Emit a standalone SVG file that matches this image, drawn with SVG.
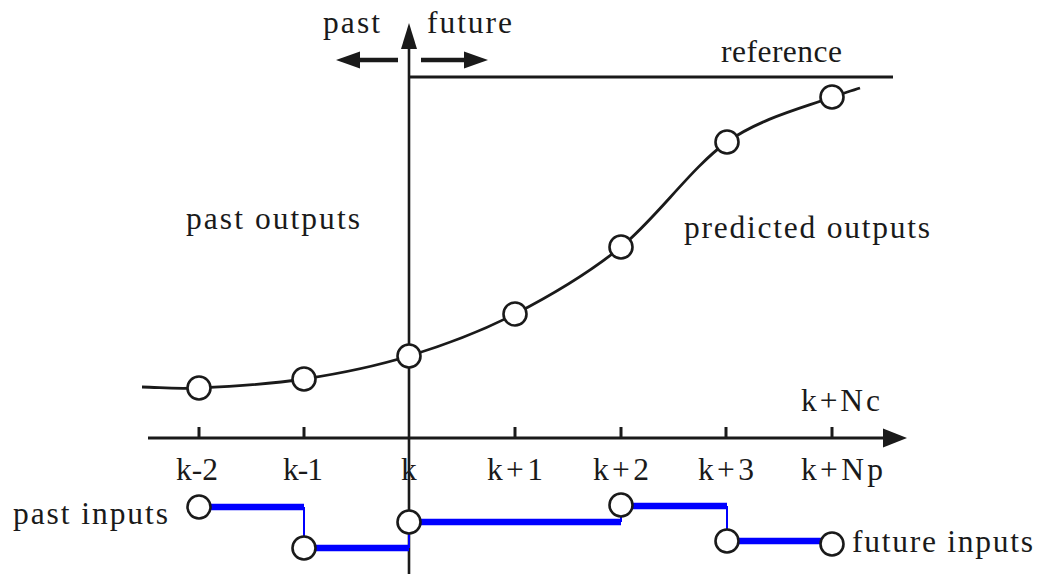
<svg xmlns="http://www.w3.org/2000/svg" width="1038" height="574" viewBox="0 0 1038 574">
<style>
text{font-family:"Liberation Serif","Times New Roman",serif;font-size:31.5px;fill:#1a1a1a}
.ax{stroke:#1a1a1a;fill:none}
.pt{fill:#fff;stroke:#1a1a1a;stroke-width:2.6}
.u{stroke:#0000ff;stroke-width:6.5;fill:none}
.uv{stroke:#0000ff;stroke-width:2;fill:none}
.hd{fill:#1a1a1a}
</style>
<rect width="1038" height="574" fill="#fff"/>
<g id="connectors">
  <line class="ax" x1="409" y1="574" x2="409" y2="45" stroke-width="2.6"/>
  <polygon class="hd" points="409,23 401,49 417,49"/>
  <line class="ax" x1="148" y1="438" x2="886" y2="438" stroke-width="3"/>
  <polygon class="hd" points="907,438 883,428.5 883,447.5"/>
  <g class="ax" stroke-width="3">
    <line x1="199" y1="427" x2="199" y2="438"/>
    <line x1="304" y1="427" x2="304" y2="438"/>
    <line x1="515" y1="427" x2="515" y2="438"/>
    <line x1="621" y1="427" x2="621" y2="438"/>
    <line x1="726" y1="427" x2="726" y2="438"/>
    <line x1="832" y1="427" x2="832" y2="438"/>
  </g>
  <line class="ax" x1="398" y1="60" x2="358" y2="60" stroke-width="4.5"/>
  <polygon class="hd" points="336,60 360,51.5 360,68.5"/>
  <line class="ax" x1="421" y1="60" x2="466" y2="60" stroke-width="4.5"/>
  <polygon class="hd" points="488,60 464,51.5 464,68.5"/>
  <line class="ax" x1="409" y1="77" x2="893" y2="77" stroke-width="3"/>
  <path id="outputs-curve" class="ax" stroke-width="2.8" d="M142,387 C161,387.3 172,389.3 199,388 C226,386.7 269,384.3 304,379 C339,373.7 373.8,366.8 409,356 C444.2,345.2 479.7,332.2 515,314 C550.3,295.8 585.7,275.7 621,247 C656.3,218.3 691.8,167 727,142 C762.2,117 809.8,106 832,97 C841,94 851,91 860,88"/>
  <g id="inputs">
    <line class="u" x1="199" y1="507" x2="304" y2="507"/>
    <line class="uv" x1="304" y1="507" x2="304" y2="548"/>
    <line class="u" x1="304" y1="548" x2="409" y2="548"/>
    <line class="uv" x1="409" y1="548" x2="409" y2="522"/>
    <line class="u" x1="409" y1="522" x2="621" y2="522"/>
    <line class="uv" x1="621" y1="522" x2="621" y2="506"/>
    <line class="u" x1="621" y1="506" x2="727" y2="506"/>
    <line class="uv" x1="727" y1="506" x2="727" y2="541"/>
    <line class="u" x1="727" y1="541" x2="832" y2="541"/>
  </g>
</g>
<g id="output-points">
  <circle id="y-k-2" class="pt" cx="199" cy="388" r="11.5"/>
  <circle id="y-k-1" class="pt" cx="304" cy="379" r="11.5"/>
  <circle id="y-k" class="pt" cx="409" cy="356" r="11.5"/>
  <circle id="y-k1" class="pt" cx="515" cy="314" r="11.5"/>
  <circle id="y-k2" class="pt" cx="621" cy="247" r="11.5"/>
  <circle id="y-k3" class="pt" cx="727" cy="142" r="11.5"/>
  <circle id="y-kNp" class="pt" cx="832" cy="97" r="11.5"/>
</g>
<g id="input-points">
  <circle id="u-k-2" class="pt" cx="199" cy="507" r="11.5"/>
  <circle id="u-k-1" class="pt" cx="304" cy="548" r="11.5"/>
  <circle id="u-k" class="pt" cx="409" cy="522" r="11.5"/>
  <circle id="u-k2" class="pt" cx="621" cy="505" r="11.5"/>
  <circle id="u-k3" class="pt" cx="727" cy="541" r="11.5"/>
  <circle id="u-kNc" class="pt" cx="832" cy="544" r="11.5"/>
</g>
<g id="labels">
  <text x="323" y="33" textLength="57">past</text>
  <text x="427" y="33" textLength="85">future</text>
  <text x="721" y="62" textLength="121">reference</text>
  <text x="186" y="229" textLength="174">past outputs</text>
  <text x="684" y="238" textLength="246">predicted outputs</text>
  <text x="801" y="411" textLength="79">k+Nc</text>
  <text x="176" y="480" textLength="42">k-2</text>
  <text x="283" y="480" textLength="40">k-1</text>
  <text x="401" y="480" textLength="15">k</text>
  <text x="487" y="480" textLength="56">k+1</text>
  <text x="593" y="480" textLength="56">k+2</text>
  <text x="698" y="480" textLength="56">k+3</text>
  <text x="801" y="480" textLength="82">k+Np</text>
  <text x="13" y="524" textLength="155">past inputs</text>
  <text x="852" y="552" textLength="181">future inputs</text>
</g>
</svg>
